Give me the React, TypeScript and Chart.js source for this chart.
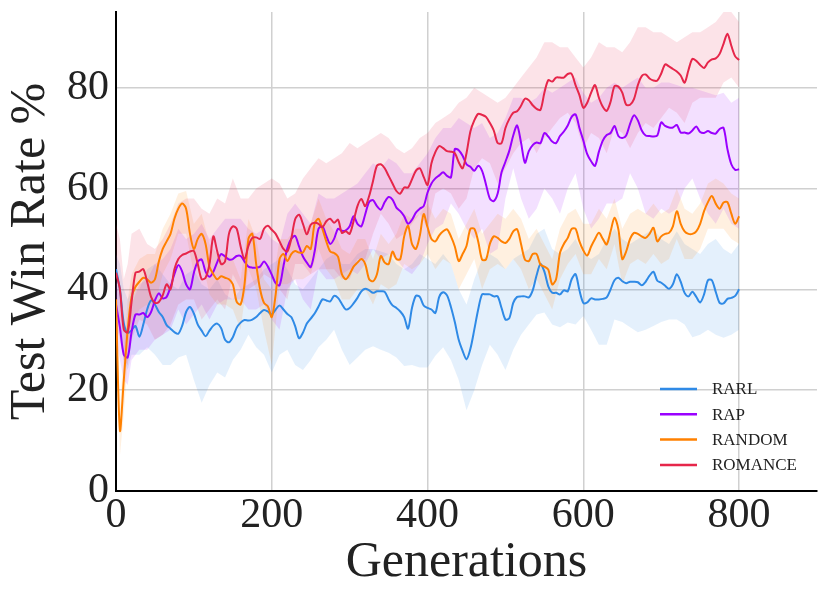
import { useEffect, useRef } from "react";
import { Chart, registerables } from "chart.js";

Chart.register(...registerables);

// generations: means every 5, bands every 10 (with extra early points)
const MEAN_STEP = 5;
const bandGens = [0, 5, 10, 15, 20, ...Array.from({ length: 78 }, (_, i) => 30 + i * 10)];

const seriesNames = ["RARL", "RAP", "RANDOM", "ROMANCE"];
const lineColors = ["#2f8ae6", "#9a00ff", "#ff8000", "#e6264a"];
const fillColors = [
  "rgba(47, 138, 230, 0.13)",
  "rgba(154, 0, 255, 0.12)",
  "rgba(255, 128, 0, 0.12)",
  "rgba(230, 38, 74, 0.13)",
];

const rarlMean = [
  44, 40, 33.3, 31.3, 31.9, 32.7, 30.6, 33, 36, 37.8,
  37, 35.5, 34.5, 32.9, 32.2, 31.5, 31.2, 32.8, 35.5, 36.5,
  35.2, 33, 31.8, 30.7, 31.8, 32.8, 33.2, 32.3, 30, 29.5,
  30.5, 32.4, 33.4, 33.9, 33.8, 34, 34.5, 35.3, 35.9, 35.6,
  35, 36, 36.8, 36, 35.1, 34.5, 32.7, 30.3, 31.4, 33.2,
  34.2, 35.2, 36.6, 38, 37.8, 37.6, 38.7, 38.3, 37.1, 36,
  36.3, 37.2, 38.3, 39.6, 40.1, 39.8, 39.3, 39.6, 39.6, 39.5,
  38, 36.8, 36.3, 35.6, 34.5, 32.2, 36.3, 38.7, 38.5, 36.8,
  36.3, 36, 35.3, 38.5, 39.4, 38.8, 36.5, 33.5, 30, 27.8,
  26.1, 28.2, 32, 36, 39, 39, 39, 38.6, 38.6, 36.3,
  34, 34.3, 37.3, 38.5, 38.6, 38.6, 38.4, 39.8, 42.8, 45,
  43.5, 40.6, 39.3, 39.3, 39, 39.8, 39.6, 42, 43, 39.8,
  37.3, 37.4, 38.2, 38, 38, 38.1, 38.4, 40, 41.8, 42.3,
  41.6, 41.2, 41.5, 41.5, 41.4, 40.8, 41.5, 42.7, 43.5, 41.7,
  41.3, 40.7, 40.1, 41, 43, 41.5, 39.3, 38.6, 39.5, 38.5,
  37.4, 39, 41.8, 41.8, 39.5, 37.3, 37.2, 38.1, 38.3, 38.7,
  40,
];
const rarlLo = [
  38, 33, 26, 24, 27,
  27, 28.5, 27, 25, 25, 26.5, 27,
  22, 17.5, 21, 23.5, 22.5, 26, 28, 31, 28.5, 27,
  23.5, 27, 28, 25, 24, 26, 28.5, 30, 32, 28,
  25, 26.5, 28, 28.7, 28, 27.4, 26.5, 24.8, 25, 24.5,
  24.5, 26.8, 28.5, 26, 22, 16, 20, 25, 29, 27,
  24, 28, 31, 33, 35, 35.4, 33, 32.5, 33.4, 33,
  34.7, 32, 29, 29, 34, 33.5, 32.5, 31.5, 32, 32.7,
  33.5, 34, 34, 33, 30.5, 31, 32, 31, 30.4, 31,
  32,
];
const rarlHi = [
  47, 45, 40, 38, 40,
  40, 44, 45, 43, 41, 40, 43,
  44, 41, 40, 42, 39, 38, 40, 41, 42, 44,
  45, 46, 44, 41, 40, 42, 44, 46, 47, 45,
  45, 47, 48, 48, 47.5, 47, 45, 44, 45, 47,
  46, 45, 47, 45, 40, 37, 42, 46, 47, 46,
  44, 46, 47, 48, 51, 52, 48, 47, 48, 50,
  47, 46, 47, 50, 52, 50, 49, 50, 51, 52,
  50, 49, 51.5, 49, 48, 47, 49, 50, 48, 47,
  49,
];

const rapMean = [
  37, 32.5, 27, 26.5, 31.5, 35, 35, 35.3, 34.5, 35.5,
  37.8, 39.2, 38.2, 38.5, 40.5, 43, 44.8, 43.5, 41, 40,
  43.3, 45.5, 45.9, 43.5, 42.5, 43.5, 45.4, 47, 46.5, 45.9,
  46, 46.6, 46.6, 45.5, 44.5, 44.3, 44.3, 44.5, 45.5, 44.5,
  42.9, 41.2, 40.8, 44.6, 48.2, 50, 50.6, 48.5, 46.5, 45.3,
  44.4, 47.5, 52, 52.5, 50.6, 49, 50, 52, 51.6, 51.7,
  52.5, 54.5, 53, 52.5, 54.9, 57.3, 57.7, 56.5, 55.8, 57.3,
  58.3, 57.8, 56.2, 55.5, 54.5, 53, 53.8, 55.2, 56, 56.5,
  59.2, 61, 62, 62.6, 63.2, 62.5, 62.2, 67.8, 67.6, 66.5,
  64.8, 64.3, 63.5, 64.5, 63.5, 60.8, 58, 57.5, 59, 63.2,
  65.3, 67.5, 70.5, 72.5, 69.1, 65.1, 67.4, 68.6, 69.1, 69,
  71, 70.3, 69.3, 69, 70.4, 71.3, 72.5, 74.2, 74.7, 72,
  69.5, 66.8, 65.4, 64.5, 67.3, 69.5, 70.6, 71, 72.4, 70.4,
  70, 70.5, 72.8, 74.5, 73.5, 71.5, 70.5, 70.4, 70.3, 70.5,
  73.1, 72.4, 72.1, 72.1, 72.6, 71.1, 71.1, 70.9, 71.5, 72.3,
  71.2, 71, 71.4, 71, 70.9, 71.8, 72, 67.8, 64.8, 63.7,
  63.8,
];
const rapLo = [
  30, 26, 22, 21, 26,
  28, 28, 30, 31, 32, 36, 33,
  35, 37, 34, 37, 38, 38, 38, 36, 36, 37,
  34, 32, 40, 42, 38, 36, 44, 42, 42, 43,
  44, 43, 45, 48, 46, 47, 46, 44, 43, 45,
  49, 52, 53, 57, 55, 52, 50, 52, 47, 48,
  58, 64, 58, 54, 56, 60, 58, 55, 60, 63,
  56, 52, 54, 57, 57, 58, 63, 60, 55, 54,
  56, 55, 56, 60, 62, 58, 55, 53, 56, 53,
  52,
];
const rapHi = [
  42, 38, 33, 32, 37,
  41, 42, 45, 46, 48, 52, 50,
  51, 53, 50, 52, 54, 54, 54, 52, 51, 52,
  50, 49, 55, 57, 55, 53, 59, 58, 58, 59,
  60, 61, 63, 65, 64, 66, 65, 63, 63, 65,
  67, 70, 72, 72, 74, 73, 72, 73, 70, 71,
  74, 78, 78, 77, 78, 80, 79, 80, 81, 82,
  79, 77, 78, 80, 81, 80, 81, 82, 80, 80,
  81, 81, 80.5, 80, 80, 79.5, 79, 78.5, 79, 77,
  78,
];

const randomMean = [
  38, 12, 22, 32, 38.5, 40.5, 41.5, 42.3, 42, 41.3,
  42, 45.5, 48, 49.5, 51, 54, 56, 57, 56, 51,
  48, 50, 51, 49, 44.5, 43, 42, 42.6, 42.3, 42,
  41, 37.5, 37, 41, 50, 51, 45, 40, 37.3, 36.6,
  34.5, 39, 46, 47, 45.6, 47, 47.6, 47.3, 47.3, 48.6,
  48, 53, 54, 52, 49.5, 47.5, 47.2, 46.5, 43, 42,
  43, 44.5, 45.3, 46, 45, 42, 41.6, 43, 46.6, 45.3,
  45, 47.5, 46, 46, 50.5, 52.6, 49, 48, 50.6, 54.9,
  52.3, 50, 49.5, 50.7, 51.5, 51.9, 50.5, 48.5, 45.6, 47,
  48.6, 52, 52, 49.5, 45.9, 45.9, 49, 50.5, 50.2, 49.5,
  49.2, 50, 51.5, 51.9, 49, 45.9, 45.6, 47, 47, 44.9,
  44.5, 43.9, 41, 42, 47.2, 49, 50.2, 52, 52, 49.5,
  47.7, 46.7, 48.5, 50, 51.2, 50, 48.9, 51.5, 54.2, 51.9,
  46, 47.5, 50, 51.2, 51, 50.5, 50.2, 51, 52.2, 49.5,
  50.5, 51, 51.2, 52.5, 55.5, 53, 51.5, 51, 51, 51.5,
  53, 55.5, 57.3, 58.5, 57, 56, 57.2, 57.3, 55, 53,
  54.5,
];
const randomLo = [
  35, 7, 15, 26, 33,
  36, 37, 37, 43, 46, 51, 51,
  43, 46, 39, 37, 37, 36, 32, 44, 40, 32,
  25, 41, 41, 42, 42, 43, 48, 44, 42, 38,
  38, 40, 40, 37, 41, 40, 41, 45, 44, 45,
  47, 44, 46, 45, 40, 43, 46, 40, 44, 45,
  44, 46, 44, 40, 42, 39, 36, 42, 45, 47,
  43, 43, 46, 44, 49, 41, 45, 46, 45, 47,
  45, 46, 50, 46, 46, 48, 52, 52, 52, 50,
  49,
];
const randomHi = [
  40, 16, 28, 38, 43,
  46, 47, 47, 52, 55, 59, 59.5,
  53, 55, 49, 47, 47, 46, 42, 54, 50, 42,
  40, 50, 50, 52, 52, 53, 58, 54, 51.5, 48,
  47, 50, 50, 46, 51, 49, 51, 55, 54, 55,
  57, 54, 56, 55, 50, 53, 56, 51, 53, 55,
  54, 56, 54, 50, 52, 49, 46, 52, 55, 56,
  53, 53, 56, 54, 58, 52, 55, 56, 55, 57,
  55, 56, 60, 56, 55, 57, 61, 62, 61, 59,
  58,
];

const romanceMean = [
  43.3, 40, 32, 31.5, 37.5, 43.3, 43.5, 44, 41.5, 38.5,
  37.3, 37.5, 38.8, 41, 40, 44, 46, 46.8, 47.1, 47.5,
  47.6, 45, 42, 42.3, 45, 50.5, 47.5, 45, 45.5, 51,
  52.5, 52, 48.5, 46, 48.6, 50.2, 50.3, 50, 52, 52.6,
  51.8, 51, 49.5, 48, 47.5, 50, 53.9, 54.8, 53, 50.9,
  52.8, 53.2, 53, 52.3, 53.5, 54, 53.2, 53.8, 51.2, 51.5,
  51, 53.5, 56.5, 57.9, 56.5, 58.5, 61.5, 64.5, 64.8, 64,
  62.5, 61, 59.5, 59, 60.2, 60.2, 61.8, 63.5, 64, 62.3,
  60.7, 65, 67.2, 68.4, 68, 67.4, 67.3, 67, 65.2, 64,
  67, 71.3, 73.5, 74.8, 74.6, 74.2, 73, 71.5, 69, 69,
  72, 73.8, 75, 75.3, 76.4, 77.8, 77.5, 76.5, 75.8, 75.6,
  79, 81.5, 81.2, 82, 82, 82, 82.7, 82.7, 80.5, 78.5,
  76, 77, 79, 80.5, 78, 76.2, 75.4, 77.2, 80.3, 80.2,
  79, 76.6, 76.6, 77.7, 80.5, 82.3, 82.6, 81.8, 81.4, 81.4,
  82.8, 84.6, 84.2, 83.7, 83.2, 82.4, 81, 83.5, 85.7, 85.3,
  84.5, 83.9, 85, 85.6, 85.8, 86.7, 88.7, 90.7, 88.3, 86.2,
  85.5,
];
const romanceLo = [
  33, 30, 26, 25, 30,
  34, 33, 30, 31, 33, 37, 38,
  38, 34, 36, 38, 36, 43, 40, 40, 41, 43,
  42, 40, 38, 45, 45, 43, 44, 44, 44, 42,
  42, 46, 46, 51, 55, 53, 50, 51, 53, 55,
  52, 59, 60, 59, 56, 58, 64, 66, 65, 61,
  64, 67, 69, 70, 67, 70, 72, 74, 75, 73,
  68, 71, 70, 67, 72, 71, 68, 71, 73, 72,
  74, 76, 75, 73, 77, 78, 78, 78, 81, 82,
  80,
];
const romanceHi = [
  53, 50, 42, 45, 51,
  52, 49, 48, 50, 53, 57, 58,
  58, 56, 55, 58, 57, 62, 58, 58, 60, 61,
  62, 61, 58, 59, 62, 64, 66, 65, 66, 67,
  69, 68, 69, 70, 71, 70, 68, 67, 68, 70,
  71, 73, 74, 75, 77, 78, 80, 79, 78, 77,
  78, 80, 82, 84, 86, 89, 89, 88, 88, 86,
  84, 86, 89, 88, 88, 87, 89, 92, 92, 91,
  91, 90, 89, 90, 91, 91, 92, 93, 95, 95,
  93,
];

const means = [rarlMean, rapMean, randomMean, romanceMean];
const lows = [rarlLo, rapLo, randomLo, romanceLo];
const highs = [rarlHi, rapHi, randomHi, romanceHi];

const FONT = "'Liberation Serif', 'Times New Roman', serif";
const TEXT = "#222222";

const meanPoints = (vals: number[]) => vals.map((y, i) => ({ x: i * MEAN_STEP, y }));
const bandPoints = (vals: number[]) => vals.map((y, i) => ({ x: bandGens[i], y }));

// legend drawn inside the plot, lower right
const cornerLegend = {
  id: "cornerLegend",
  afterDraw(chart: Chart) {
    const { ctx, chartArea } = chart;
    ctx.save();
    ctx.font = `17px ${FONT}`;
    ctx.textBaseline = "middle";
    seriesNames.forEach((name, i) => {
      const y = chartArea.bottom - 102 + i * 25.3;
      const x = chartArea.right - 157;
      ctx.strokeStyle = lineColors[i];
      ctx.lineWidth = 2.5;
      ctx.beginPath();
      ctx.moveTo(x, y);
      ctx.lineTo(x + 37, y);
      ctx.stroke();
      ctx.fillStyle = TEXT;
      ctx.fillText(name, x + 52, y + 1);
    });
    ctx.restore();
  },
};

export default function App() {
  const canvasRef = useRef<HTMLCanvasElement>(null);
  const chartRef = useRef<Chart | null>(null);

  useEffect(() => {
    if (!canvasRef.current) return;
    if (chartRef.current) chartRef.current.destroy();

    const datasets: any[] = [];
    seriesNames.forEach((name, i) => {
      const layer = 3 - i; // later series on top
      datasets.push({
        label: `${name} upper`,
        data: bandPoints(highs[i]),
        borderWidth: 0,
        pointRadius: 0,
        backgroundColor: fillColors[i],
        fill: "+1",
        tension: 0,
        order: 10 + layer,
      });
      datasets.push({
        label: `${name} lower`,
        data: bandPoints(lows[i]),
        borderWidth: 0,
        pointRadius: 0,
        fill: false,
        tension: 0,
        order: 10 + layer,
      });
    });
    seriesNames.forEach((name, i) => {
      datasets.push({
        label: name,
        data: meanPoints(means[i]),
        borderColor: lineColors[i],
        borderWidth: 2,
        pointRadius: 0,
        fill: false,
        tension: 0.3,
        order: 3 - i,
      });
    });

    chartRef.current = new Chart(canvasRef.current, {
      type: "line",
      data: { datasets },
      options: {
        animation: false,
        responsive: true,
        maintainAspectRatio: false,
        layout: { padding: { top: 12, right: 13, left: 0, bottom: 0 } },
        plugins: {
          legend: { display: false },
          tooltip: { enabled: false },
        },
        scales: {
          x: {
            type: "linear",
            min: 0,
            max: 900,
            afterFit: (s: any) => {
              s.height = 112;
              s.paddingLeft = 0;
              s.paddingRight = 0;
            },
            ticks: {
              stepSize: 200,
              includeBounds: false,
              color: TEXT,
              padding: 4,
              maxRotation: 0,
              font: { family: FONT, size: 42, lineHeight: 1 },
            },
            grid: { color: "#d0d0d0", lineWidth: 1.5, drawTicks: false },
            border: { color: "#000", width: 2 },
            title: {
              display: true,
              text: "Generations",
              color: TEXT,
              font: { family: FONT, size: 50 },
              padding: { top: 0, bottom: 10 },
            },
          },
          y: {
            min: 0,
            max: 95,
            afterFit: (s: any) => {
              s.width = 116;
              s.paddingTop = 0;
              s.paddingBottom = 0;
            },
            ticks: {
              stepSize: 20,
              includeBounds: false,
              color: TEXT,
              padding: 7,
              font: { family: FONT, size: 42 },
            },
            grid: { color: "#d0d0d0", lineWidth: 1.5, drawTicks: false },
            border: { color: "#000", width: 2 },
            title: {
              display: true,
              text: "Test Win Rate %",
              color: TEXT,
              font: { family: FONT, size: 50 },
              padding: { top: 1, bottom: 0 },
            },
          },
        },
      },
      plugins: [cornerLegend],
    });

    return () => {
      if (chartRef.current) {
        chartRef.current.destroy();
        chartRef.current = null;
      }
    };
  }, []);

  return (
    <div style={{ position: "fixed", left: 0, top: 0, width: 830, height: 603, background: "#fff" }}>
      <canvas ref={canvasRef} />
    </div>
  );
}
